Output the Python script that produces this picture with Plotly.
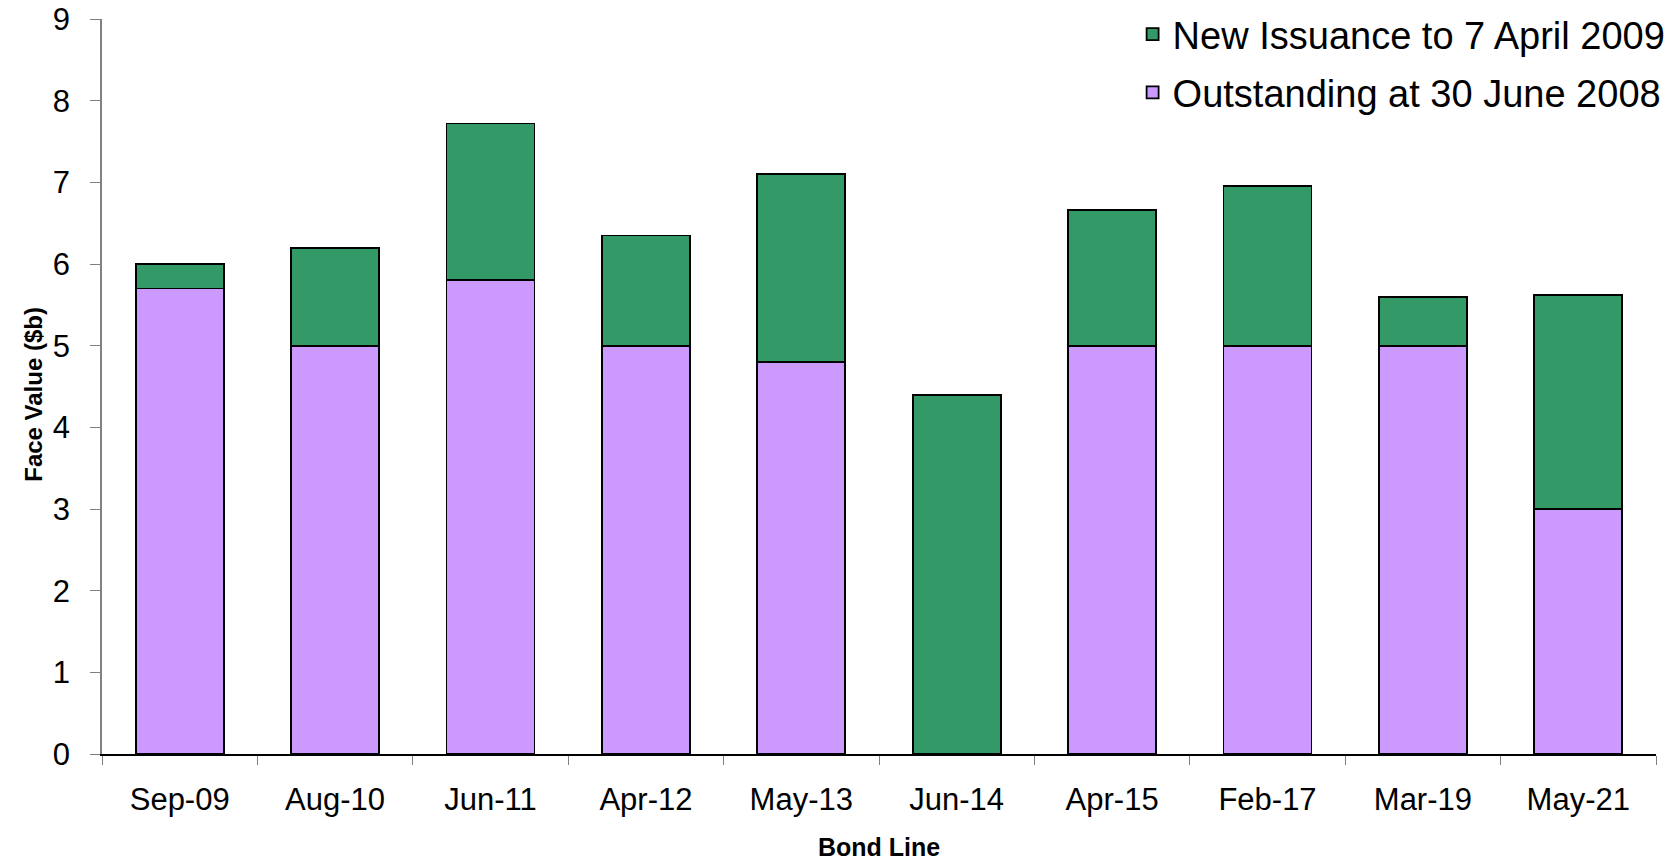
import plotly.graph_objects as go

categories = ["Sep-09", "Aug-10", "Jun-11", "Apr-12", "May-13", "Jun-14", "Apr-15", "Feb-17", "Mar-19", "May-21"]
outstanding = [5.7, 5.0, 5.8, 5.0, 4.8, 0.0, 5.0, 5.0, 5.0, 3.0]
new_issuance = [0.3, 1.2, 1.92, 1.35, 2.3, 4.4, 1.66, 1.96, 0.6, 2.62]
y_ticks = [0, 1, 2, 3, 4, 5, 6, 7, 8, 9]

FONT = "Liberation Sans, Arial, sans-serif"

fig = go.Figure()
fig.add_trace(go.Bar(
    x=categories, y=outstanding, name="Outstanding at 30 June 2008",
    marker=dict(color="#CC99FF", line=dict(color="#000000", width=1.8)),
    legendgroup="b", legendrank=2,
))
fig.add_trace(go.Bar(
    x=categories, y=new_issuance, name="New Issuance to 7 April 2009",
    marker=dict(color="#339966", line=dict(color="#000000", width=1.8)),
    legendgroup="a", legendrank=1,
))

fig.update_layout(
    barmode="stack",
    bargap=0.434,
    width=1680, height=862,
    margin=dict(l=102, r=24, t=19, b=108, autoexpand=False),
    paper_bgcolor="white", plot_bgcolor="white",
    font=dict(family=FONT, color="#000000"),
    legend=dict(
        x=1.0094, xanchor="right", y=1.022, yanchor="top",
        traceorder="grouped", tracegroupgap=6,
        font=dict(size=38, family=FONT),
        bgcolor="rgba(0,0,0,0)",
    ),
    xaxis=dict(
        type="category", tickson="boundaries", ticks="outside", ticklen=9,
        tickcolor="#808080", showline=True, linecolor="#000000", linewidth=1.5,
        tickfont=dict(size=31, family=FONT), ticklabelstandoff=17, tickangle=0,
        showgrid=False, zeroline=False,
    ),
    yaxis=dict(
        range=[0, 9], tickvals=y_ticks, ticks="outside", ticklen=10,
        tickcolor="#808080", showline=True, linecolor="#808080", linewidth=1.5,
        tickfont=dict(size=31, family=FONT), ticklabelstandoff=14,
        showgrid=False, zeroline=False,
    ),
    annotations=[
        dict(text="<b>Bond Line</b>", x=0.5, xref="paper", y=-0.1265, yref="paper",
             xanchor="center", yanchor="middle", showarrow=False,
             font=dict(size=25, family=FONT)),
        dict(text="<b>Face Value ($b)</b>", x=-0.0438, xref="paper", y=0.49, yref="paper",
             xanchor="center", yanchor="middle", showarrow=False, textangle=-90,
             font=dict(size=24, family=FONT)),
    ],
)

fig.write_html(
    "out.html",
    config={"displayModeBar": False},
    post_script="document.body.style.margin='0';document.body.style.overflow='hidden';",
)
